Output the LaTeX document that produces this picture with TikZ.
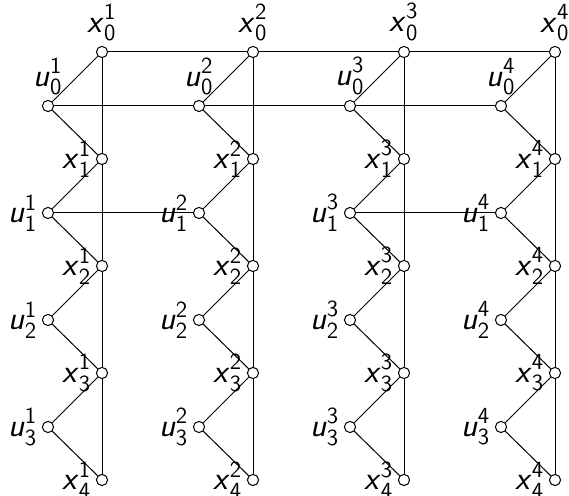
\documentclass[tikz,border=0pt]{standalone}
\usepackage{amsmath}
\begin{document}
\begin{tikzpicture}[x=0.5pt,y=-0.5pt,
  v/.style={circle,draw,fill=white,minimum size=5.6pt,inner sep=0pt,line width=0.5pt},
  e/.style={line width=0.5pt},
  every label/.style={font=\fontsize{16.5}{19}\selectfont,inner sep=1pt},
  label distance=1.2pt]
\useasboundingbox (0,0) rectangle (569,496);
\foreach \c in {1,...,4} {
  \pgfmathsetmacro\xx{102+151*(\c-1)}
  \pgfmathsetmacro\uu{48+151*(\c-1)}
  \foreach \i in {0,...,4} {
    \ifnum\i=0 \def\pos{above}\else\def\pos{left}\fi
    \node[v,label={\pos:$\textsf{\textit{x}}^{\textsf{\c}}_{\textsf{\i}}$}] (x\c\i) at (\xx,52+107*\i) {};
  }
  \foreach \i in {0,...,3} {
    \ifnum\i=0 \def\pos{above}\else\def\pos{left}\fi
    \node[v,label={\pos:$\textsf{\textit{u}}^{\textsf{\c}}_{\textsf{\i}}$}] (u\c\i) at (\uu,106+107*\i) {};
  }
  \foreach \i [evaluate=\i as \j using int(\i+1)] in {0,...,3} {
    \draw[e] (x\c\i) -- (x\c\j);
    \draw[e] (u\c\i) -- (x\c\i);
    \draw[e] (u\c\i) -- (x\c\j);
  }
}
\foreach \c [evaluate=\c as \d using int(\c+1)] in {1,2,3} {
  \draw[e] (x\c0) -- (x\d0);
  \draw[e] (u\c0) -- (u\d0);
}
\draw[e] (u11) -- (u21);
\draw[e] (u31) -- (u41);
\end{tikzpicture}
\end{document}
